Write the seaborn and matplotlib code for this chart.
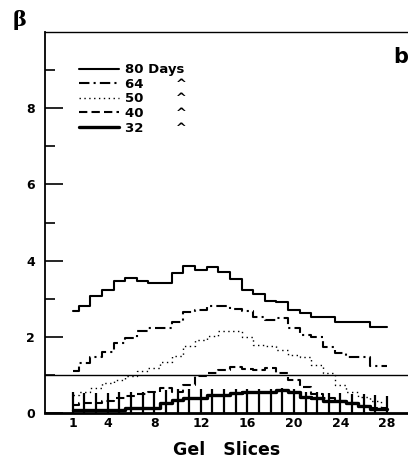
from matplotlib import pyplot as plt
import seaborn as sns
import numpy as np

slices = np.arange(1, 29)

beta_80 = [2.67, 2.80, 3.08, 3.24, 3.47, 3.54, 3.46, 3.41, 3.41, 3.68, 3.87, 3.76, 3.83, 3.69,
           3.52, 3.24, 3.12, 2.95, 2.90, 2.69, 2.62, 2.52, 2.52, 2.40, 2.40, 2.40, 2.25, 2.25]
beta_64 = [1.09, 1.31, 1.46, 1.61, 1.83, 1.96, 2.14, 2.23, 2.23, 2.40, 2.64, 2.71, 2.80, 2.80,
           2.74, 2.68, 2.52, 2.43, 2.49, 2.23, 2.05, 1.99, 1.73, 1.57, 1.48, 1.48, 1.24, 1.24]
beta_50 = [0.47, 0.54, 0.65, 0.78, 0.87, 0.96, 1.09, 1.18, 1.35, 1.50, 1.75, 1.92, 2.01, 2.14,
           2.14, 1.99, 1.79, 1.75, 1.66, 1.53, 1.48, 1.26, 1.06, 0.74, 0.56, 0.43, 0.30, 0.12]
beta_40 = [0.21, 0.25, 0.25, 0.30, 0.39, 0.45, 0.49, 0.54, 0.65, 0.56, 0.74, 0.97, 1.06, 1.13,
           1.20, 1.15, 1.13, 1.18, 1.06, 0.87, 0.69, 0.50, 0.39, 0.30, 0.25, 0.18, 0.12, 0.12]
beta_32 = [0.08, 0.08, 0.08, 0.08, 0.08, 0.12, 0.12, 0.12, 0.27, 0.34, 0.39, 0.39, 0.46, 0.46,
           0.52, 0.54, 0.54, 0.54, 0.61, 0.56, 0.43, 0.39, 0.30, 0.30, 0.27, 0.17, 0.10, 0.10]
top_32 = [0.55, 0.53, 0.53, 0.53, 0.55, 0.55, 0.55, 0.57, 0.60, 0.62, 0.62, 0.62, 0.62, 0.62,
          0.62, 0.62, 0.62, 0.62, 0.65, 0.62, 0.55, 0.55, 0.52, 0.52, 0.50, 0.50, 0.48, 0.45]

xticks = [1, 4, 8, 12, 16, 20, 24, 28]
legend_labels = ["80 Days", "64       ^", "50       ^", "40       ^", "32       ^"]


def main():
    sns.set_style("ticks")
    plt.rcParams["font.family"] = ["DejaVu Sans"]
    plt.rcParams["font.weight"] = "bold"
    for key in ["text.color", "axes.edgecolor", "axes.labelcolor", "xtick.color", "ytick.color"]:
        plt.rcParams[key] = "black"

    fig = plt.figure(figsize=(4.08, 4.65), dpi=100)
    ax = fig.add_axes([0.110, 0.112, 0.890, 0.819])

    k = "black"
    sns.lineplot(x=slices, y=beta_80, ax=ax, color=k, lw=1.5, drawstyle="steps-mid",
                 label=legend_labels[0])
    sns.lineplot(x=slices, y=beta_64, ax=ax, color=k, lw=1.5, drawstyle="steps-mid",
                 linestyle=(0, (5, 2, 1, 2)), label=legend_labels[1])
    sns.lineplot(x=slices, y=beta_50, ax=ax, color=k, lw=1.0, drawstyle="steps-mid",
                 linestyle=(0, (1, 2.5)), label=legend_labels[2])
    sns.lineplot(x=slices, y=beta_40, ax=ax, color=k, lw=1.5, drawstyle="steps-mid",
                 linestyle=(0, (4, 2)), label=legend_labels[3])
    sns.lineplot(x=slices, y=beta_32, ax=ax, color=k, lw=2.4, drawstyle="steps-mid",
                 label=legend_labels[4])
    ax.vlines(slices, 0, top_32, color=k, lw=1.6)
    ax.axhline(1, color=k, lw=1.0)

    ax.set_xlim(-1.4, 29.8)
    ax.set_ylim(0, 10)
    ax.set_xticks(xticks)
    ax.set_yticks([0, 2, 4, 6, 8])
    ax.set_yticks([1, 3, 5, 7, 9], minor=True)
    ax.tick_params(axis="y", which="major", direction="in", length=13, width=1.2,
                   labelsize=9, pad=7)
    ax.tick_params(axis="y", which="minor", direction="in", length=7, width=1.2)
    ax.tick_params(axis="x", length=0, labelsize=9, pad=3)
    for lab in ax.get_xticklabels() + ax.get_yticklabels():
        lab.set_fontweight("bold")

    ax.spines["right"].set_visible(False)
    ax.spines["left"].set_linewidth(1.3)
    ax.spines["bottom"].set_linewidth(2.0)
    ax.spines["top"].set_linewidth(1.0)

    ax.set_xlabel("Gel   Slices", fontsize=12.5, fontweight="bold", labelpad=8)
    ax.set_ylabel("")

    leg = ax.legend(loc="upper left", bbox_to_anchor=(0.094, 0.918), frameon=False,
                    handlelength=3.0, handletextpad=0.5, labelspacing=0.12,
                    borderpad=0, borderaxespad=0, prop={"size": 9.5, "weight": "bold"})
    for line in leg.get_lines():
        line.set_drawstyle("default")

    fig.text(0.049, 0.957, "\u03b2", fontsize=15, fontweight="bold", family="DejaVu Serif",
             ha="center", va="center")
    fig.text(0.983, 0.877, "b", fontsize=15, fontweight="bold", ha="center", va="center")

    plt.savefig("out.png", dpi=100)


if __name__ == "__main__":
    main()
